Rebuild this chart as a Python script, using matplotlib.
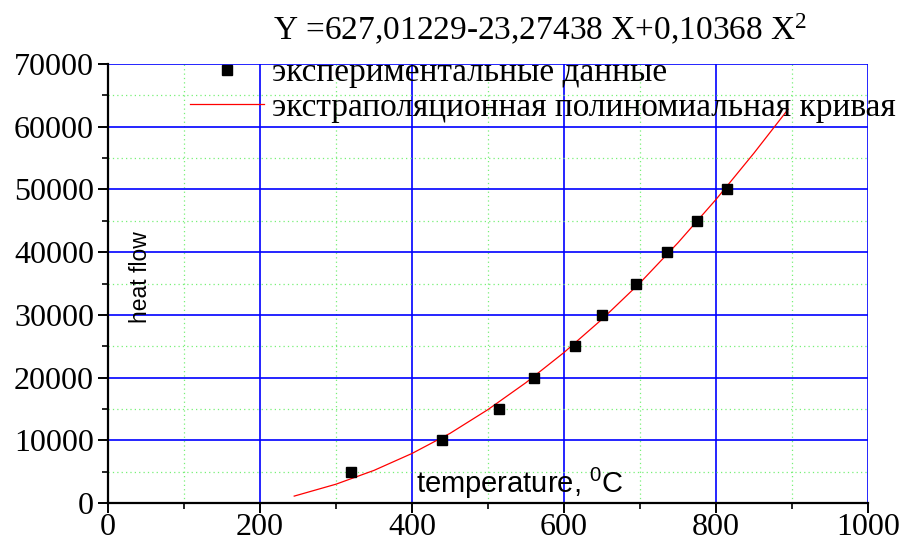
import matplotlib
matplotlib.use("Agg")
import matplotlib.pyplot as plt
from matplotlib.ticker import MultipleLocator
from matplotlib.lines import Line2D

# experimental data
exp_temp = [320, 440, 515, 560, 615, 650, 695, 735, 775, 815]
exp_heat = [5000, 10000, 15000, 20000, 25000, 30000, 35000, 40000, 45000, 50000]

# extrapolated polynomial curve
fit_temp = [245, 300, 350, 400, 450, 500, 550, 600, 650, 700, 750, 800, 850, 895]
fit_heat = [1100, 3000, 5200, 7900, 11100, 14900, 19200, 24000, 29300, 35100, 41500, 48400, 55800, 62800]

x_ticks = [0, 200, 400, 600, 800, 1000]
y_ticks = [0, 10000, 20000, 30000, 40000, 50000, 60000, 70000]

title_text = "Y =627,01229-23,27438 X+0,10368 X$\\mathregular{^2}$"
legend_labels = ["экспериментальные данные", "экстраполяционная полиномиальная кривая"]
xlabel_text = "temperature, $\\mathregular{^0}$C"
ylabel_text = "heat flow"

W, H = 903, 537
fig = plt.figure(figsize=(W / 100, H / 100), dpi=100)
ax = fig.add_axes([108 / W, 1 - 503 / H, (868 - 108) / W, (503 - 64) / H])

serif = "Liberation Serif"
sans = "Liberation Sans"

ax.set_xlim(0, 1000)
ax.set_ylim(0, 70000)
ax.set_xticks(x_ticks)
ax.set_yticks(y_ticks)
ax.xaxis.set_minor_locator(MultipleLocator(100))
ax.yaxis.set_minor_locator(MultipleLocator(5000))

ax.grid(True, which="major", color="#0000ff", linewidth=1.2, linestyle="-")
ax.grid(True, which="minor", color="#77f077", linewidth=0.9, linestyle=(0, (1, 2.5)))
ax.set_axisbelow(True)

for s in ["top", "right"]:
    ax.spines[s].set_visible(False)
for s in ["left", "bottom"]:
    ax.spines[s].set_linewidth(1.6)
    ax.spines[s].set_color("black")

ax.tick_params(which="major", direction="out", length=7, width=1.4)
ax.tick_params(which="minor", direction="out", length=4, width=1.2)
ax.tick_params(axis="x", which="major", pad=0)
ax.tick_params(axis="y", which="major", pad=3)
ax.tick_params(axis="both", labelsize=23)
for lab in ax.get_xticklabels() + ax.get_yticklabels():
    lab.set_fontfamily(serif)

line, = ax.plot(fit_temp, fit_heat, color="red", linewidth=0.9, zorder=3)
pts, = ax.plot(exp_temp, exp_heat, linestyle="none", marker="s", markersize=6.5,
               color="black", zorder=4)

fig.text(141 / W, 1 - 277 / H, ylabel_text, rotation=90, ha="center", va="center",
         fontsize=16.5, family=sans)
fig.text(520 / W, 1 - 483 / H, xlabel_text, ha="center", va="center",
         fontsize=21, family=sans)

fig.text(540 / W, 1 - 30 / H, title_text, ha="center", va="center",
         fontsize=24, family=serif)

h1 = Line2D([], [], linestyle="none", marker="s", markersize=6.5, color="black")
h2 = Line2D([], [], color="red", linewidth=0.9)
leg = fig.legend([h1, h2], legend_labels, loc="upper left",
                 bbox_to_anchor=(190 / W, 1 - 58 / H),
                 frameon=False, prop={"family": serif, "size": 24},
                 handlelength=2.22, handletextpad=0.24, labelspacing=0.12,
                 borderpad=0, borderaxespad=0)

fig.savefig("out.png", dpi=100)
